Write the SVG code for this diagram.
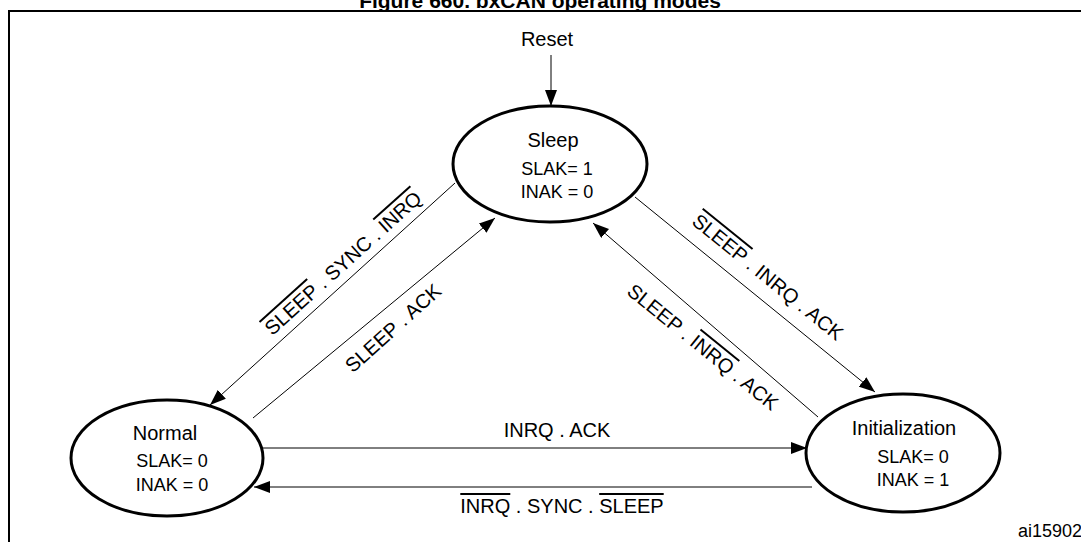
<svg xmlns="http://www.w3.org/2000/svg" width="1081" height="542" viewBox="0 0 1081 542">
<style>
text{font-family:"Liberation Sans",Arial,sans-serif;font-size:20px;fill:#000;text-anchor:middle}
.s{font-size:18px}
.n{fill:#fff;stroke:#000;stroke-width:3}
.c{stroke:#000;stroke-width:1;fill:none;marker-end:url(#a)}
.o{text-decoration:overline}
</style>
<defs><marker id="a" viewBox="0 0 16 12" refX="16" refY="6" markerWidth="16" markerHeight="12" markerUnits="userSpaceOnUse" orient="auto"><path d="M0,0L16,6L0,12z"/></marker></defs>
<rect width="1081" height="542" fill="#fff"/>
<text x="540" y="8" style="font-weight:bold;font-size:21px">Figure 660. bxCAN operating modes</text>
<rect x="9" y="11" width="1090" height="560" fill="none" stroke="#000" stroke-width="2"/>
<text x="547" y="46">Reset</text>
<g id="connectors">
<path class="c" d="M551,55V106" stroke-width="1.5"/>
<path class="c" d="M455,183L210,405"/>
<path class="c" d="M253,418L495,218"/>
<path class="c" d="M635,197L875,392"/>
<path class="c" d="M818,417L593,223"/>
<path class="c" d="M263,448H807" stroke-width="1.5"/>
<path class="c" d="M812,487H254" stroke-width="1.5" stroke="#555"/>
</g>
<g id="sleep"><ellipse class="n" cx="550" cy="164" rx="97" ry="58"/>
<text x="553" y="147">Sleep</text><text class="s" x="557" y="175">SLAK= 1</text><text class="s" x="557" y="198">INAK = 0</text></g>
<g id="normal"><ellipse class="n" cx="167" cy="458" rx="96" ry="58"/>
<text x="165" y="440">Normal</text><text class="s" x="172" y="467">SLAK= 0</text><text class="s" x="172" y="491">INAK = 0</text></g>
<g id="init"><ellipse class="n" cx="903" cy="453" rx="97" ry="59"/>
<text x="904" y="435">Initialization</text><text class="s" x="913" y="463">SLAK= 0</text><text class="s" x="913" y="486">INAK = 1</text></g>
<g id="labels">
<text transform="translate(343,263) rotate(-42)" dy="7"><tspan class="o">SLEEP</tspan> . SYNC . <tspan class="o">INRQ</tspan></text>
<text transform="translate(393,328) rotate(-42)" dy="7">SLEEP . ACK</text>
<text transform="translate(768,277) rotate(39)" dy="7"><tspan class="o">SLEEP</tspan> . INRQ . ACK</text>
<text transform="translate(703,347) rotate(39)" dy="7">SLEEP . <tspan class="o">INRQ</tspan> . ACK</text>
<text x="557" y="437">INRQ . ACK</text>
<text x="562" y="513"><tspan class="o">INRQ</tspan> . SYNC . <tspan class="o">SLEEP</tspan></text>
<text x="1018" y="537" class="s" style="text-anchor:start">ai15902</text>
</g>
</svg>
